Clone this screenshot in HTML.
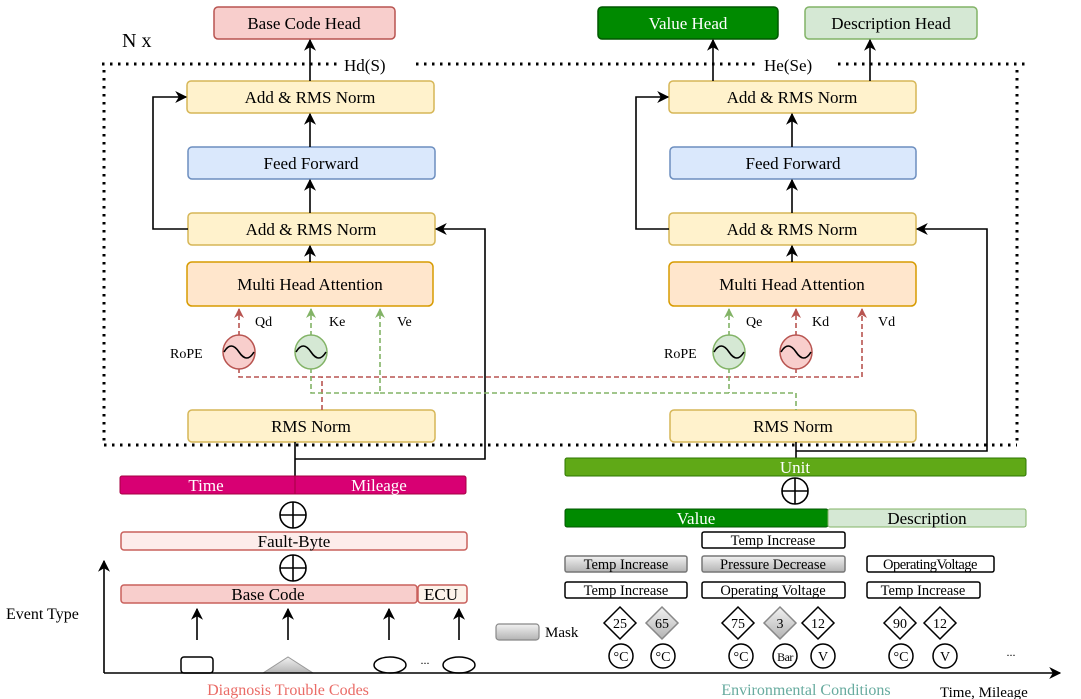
<!DOCTYPE html>
<html><head><meta charset="utf-8"><style>
html,body{margin:0;padding:0;background:#fff;}
svg{display:block;font-family:"Liberation Serif",serif;}
</style></head><body>
<svg width="1081" height="699" viewBox="0 0 1081 699" xmlns="http://www.w3.org/2000/svg">
<defs>
<marker id="ah" viewBox="0 0 10 10" refX="9" refY="5" markerWidth="12" markerHeight="12" orient="auto-start-reverse" markerUnits="userSpaceOnUse"><path d="M0,0 L10,5 L0,10 L3,5 z" fill="#000"/></marker>
<marker id="ahr" viewBox="0 0 10 10" refX="9" refY="5" markerWidth="10" markerHeight="10" orient="auto" markerUnits="userSpaceOnUse"><path d="M0,0 L10,5 L0,10 L3,5 z" fill="#b85450"/></marker>
<marker id="ahg" viewBox="0 0 10 10" refX="9" refY="5" markerWidth="10" markerHeight="10" orient="auto" markerUnits="userSpaceOnUse"><path d="M0,0 L10,5 L0,10 L3,5 z" fill="#82b366"/></marker>
<marker id="big" viewBox="0 0 10 10" refX="9" refY="5" markerWidth="12" markerHeight="12" orient="auto" markerUnits="userSpaceOnUse"><path d="M0,0 L10,5 L0,10 L3,5 z" fill="#000"/></marker>
<linearGradient id="gr" x1="0" y1="0" x2="0" y2="1"><stop offset="0" stop-color="#f2f2f2"/><stop offset="1" stop-color="#b3b3b3"/></linearGradient>
</defs>

<g stroke="#000" stroke-width="3" stroke-dasharray="2.5 5.5" fill="none">
<line x1="102" y1="64" x2="340" y2="64"/>
<line x1="416" y1="64" x2="760" y2="64"/>
<line x1="838" y1="64" x2="1026" y2="64"/>
<line x1="1017" y1="70" x2="1017" y2="445"/>
<line x1="104" y1="445" x2="1017" y2="445"/>
<line x1="104" y1="70" x2="104" y2="445"/>
</g>
<text x="122" y="47" font-size="20">N x</text>
<text x="344" y="71" font-size="17">Hd(S)</text>
<text x="764" y="71" font-size="17">He(Se)</text>

<rect x="214" y="7" width="181" height="32" rx="4" fill="#f8cecc" stroke="#b85450" stroke-width="1.5"/>
<text x="304" y="29" font-size="17" text-anchor="middle">Base Code Head</text>
<rect x="598" y="7" width="180" height="32" rx="4" fill="#008a00" stroke="#005700" stroke-width="1.5"/>
<text x="688" y="29" font-size="17" text-anchor="middle" fill="#fff">Value Head</text>
<rect x="805" y="7" width="172" height="32" rx="4" fill="#d5e8d4" stroke="#82b366" stroke-width="1.5"/>
<text x="891" y="29" font-size="17" text-anchor="middle">Description Head</text>

<g font-size="17" text-anchor="middle" stroke-width="1.5">
<rect x="187" y="81" width="247" height="32" rx="4" fill="#fff2cc" stroke="#d6b656"/>
<text x="310" y="103">Add &amp; RMS Norm</text>
<rect x="188" y="147" width="247" height="32" rx="4" fill="#dae8fc" stroke="#6c8ebf"/>
<text x="311" y="169">Feed Forward</text>
<rect x="188" y="213" width="247" height="32" rx="4" fill="#fff2cc" stroke="#d6b656"/>
<text x="311" y="235">Add &amp; RMS Norm</text>
<rect x="187" y="262" width="246" height="44" rx="5" fill="#ffe6cc" stroke="#d79b00"/>
<text x="310" y="290">Multi Head Attention</text>
<rect x="188" y="410" width="247" height="32" rx="4" fill="#fff2cc" stroke="#d6b656"/>
<text x="311" y="432">RMS Norm</text>

<rect x="669" y="81" width="247" height="32" rx="4" fill="#fff2cc" stroke="#d6b656"/>
<text x="792" y="103">Add &amp; RMS Norm</text>
<rect x="670" y="147" width="246" height="32" rx="4" fill="#dae8fc" stroke="#6c8ebf"/>
<text x="793" y="169">Feed Forward</text>
<rect x="669" y="213" width="247" height="32" rx="4" fill="#fff2cc" stroke="#d6b656"/>
<text x="792" y="235">Add &amp; RMS Norm</text>
<rect x="669" y="262" width="247" height="44" rx="5" fill="#ffe6cc" stroke="#d79b00"/>
<text x="792" y="290">Multi Head Attention</text>
<rect x="670" y="410" width="246" height="32" rx="4" fill="#fff2cc" stroke="#d6b656"/>
<text x="793" y="432">RMS Norm</text>
</g>

<g stroke="#000" stroke-width="1.6" fill="none">
<line x1="310" y1="81" x2="310" y2="40" marker-end="url(#ah)"/>
<line x1="310" y1="147" x2="310" y2="114" marker-end="url(#ah)"/>
<line x1="310" y1="213" x2="310" y2="180" marker-end="url(#ah)"/>
<line x1="310" y1="262" x2="310" y2="246" marker-end="url(#ah)"/>
<polyline points="188,229 153,229 153,97 186,97" marker-end="url(#ah)"/>
<polyline points="295,476 295,442"/>
<polyline points="295,459 485,459 485,229 436,229" marker-end="url(#ah)"/>

<line x1="713" y1="81" x2="713" y2="40" marker-end="url(#ah)"/>
<line x1="870" y1="81" x2="870" y2="40" marker-end="url(#ah)"/>
<line x1="792" y1="147" x2="792" y2="114" marker-end="url(#ah)"/>
<line x1="792" y1="213" x2="792" y2="180" marker-end="url(#ah)"/>
<line x1="792" y1="262" x2="792" y2="246" marker-end="url(#ah)"/>
<polyline points="669,229 636,229 636,97 668,97" marker-end="url(#ah)"/>
<polyline points="796,458 796,442"/>
<polyline points="796,451 987,451 987,229 917,229" marker-end="url(#ah)"/>
</g>

<g fill="none" stroke-width="1.6" stroke-dasharray="5 3">
<polyline points="239,368 239,377 862,377 862,309" stroke="#b85450" marker-end="url(#ahr)"/>
<polyline points="322,410 322,377" stroke="#b85450"/>
<line x1="239" y1="336" x2="239" y2="309" stroke="#b85450" marker-end="url(#ahr)"/>
<line x1="796" y1="336" x2="796" y2="309" stroke="#b85450" marker-end="url(#ahr)"/>
<line x1="796" y1="368" x2="796" y2="377" stroke="#b85450"/>
<polyline points="311,368 311,393 380,393 380,309" stroke="#82b366" marker-end="url(#ahg)"/>
<polyline points="380,393 796,393 796,410" stroke="#82b366"/>
<line x1="311" y1="336" x2="311" y2="309" stroke="#82b366" marker-end="url(#ahg)"/>
<line x1="729" y1="336" x2="729" y2="309" stroke="#82b366" marker-end="url(#ahg)"/>
<line x1="729" y1="368" x2="729" y2="393" stroke="#82b366"/>
</g>
<g font-size="14">
<text x="255" y="326">Qd</text><text x="329" y="326">Ke</text><text x="397" y="326">Ve</text>
<text x="746" y="326">Qe</text><text x="812" y="326">Kd</text><text x="878" y="326">Vd</text>
<text x="170" y="358">RoPE</text><text x="664" y="358">RoPE</text>
</g>
<g stroke-width="1.5">
<ellipse cx="239" cy="352" rx="16" ry="17" fill="#f8cecc" stroke="#b85450"/>
<ellipse cx="311" cy="352" rx="16" ry="17" fill="#d5e8d4" stroke="#82b366"/>
<ellipse cx="729" cy="352" rx="16" ry="17" fill="#d5e8d4" stroke="#82b366"/>
<ellipse cx="796" cy="352" rx="16" ry="17" fill="#f8cecc" stroke="#b85450"/>
</g>
<g fill="none" stroke="#000" stroke-width="1.6">
<path d="M224,352 q7,-12 15,0 t15,0"/>
<path d="M296,352 q7,-12 15,0 t15,0"/>
<path d="M714,352 q7,-12 15,0 t15,0"/>
<path d="M781,352 q7,-12 15,0 t15,0"/>
</g>

<rect x="120" y="476" width="346" height="18" rx="2" fill="#d80073" stroke="#a50040"/>
<line x1="295" y1="476" x2="295" y2="494" stroke="#a50040"/>
<text x="206" y="491" font-size="17" fill="#fff" text-anchor="middle">Time</text>
<text x="379" y="491" font-size="17" fill="#fff" text-anchor="middle">Mileage</text>
<g stroke="#000" stroke-width="1.6" fill="#fff">
<circle cx="293" cy="515" r="13"/><line x1="280" y1="515" x2="306" y2="515"/><line x1="293" y1="502" x2="293" y2="528"/>
<circle cx="293" cy="568" r="13"/><line x1="280" y1="568" x2="306" y2="568"/><line x1="293" y1="555" x2="293" y2="581"/>
<circle cx="795" cy="491" r="13"/><line x1="782" y1="491" x2="808" y2="491"/><line x1="795" y1="478" x2="795" y2="504"/>
</g>
<rect x="121" y="532" width="346" height="18" rx="3" fill="#fdeceb" stroke="#c9605c" stroke-width="1.5"/>
<text x="294" y="547" font-size="17" text-anchor="middle">Fault-Byte</text>
<rect x="121" y="585" width="296" height="18" rx="3" fill="#f8cecc" stroke="#c9605c" stroke-width="1.5"/>
<text x="268" y="600" font-size="17" text-anchor="middle">Base Code</text>
<rect x="418" y="585" width="49" height="18" rx="3" fill="#fdf3ea" stroke="#c9605c" stroke-width="1.5"/>
<text x="441" y="600" font-size="17" text-anchor="middle">ECU</text>
<g stroke="#000" stroke-width="1.6">
<line x1="197" y1="640" x2="197" y2="609" marker-end="url(#big)"/>
<line x1="288" y1="640" x2="288" y2="609" marker-end="url(#big)"/>
<line x1="389" y1="640" x2="389" y2="609" marker-end="url(#big)"/>
<line x1="459" y1="640" x2="459" y2="609" marker-end="url(#big)"/>
</g>
<rect x="181" y="657" width="32" height="16" rx="3" fill="#fff" stroke="#000" stroke-width="1.5"/>
<polygon points="263,673 288,657 313,673" fill="url(#gr)" stroke="#999"/>
<ellipse cx="390" cy="665" rx="16" ry="8" fill="#fff" stroke="#000" stroke-width="1.5"/>
<ellipse cx="459" cy="665" rx="16" ry="8" fill="#fff" stroke="#000" stroke-width="1.5"/>
<text x="425" y="664" font-size="12" text-anchor="middle">...</text>
<rect x="496" y="624" width="43" height="16" rx="3" fill="url(#gr)" stroke="#888" stroke-width="1.2"/>
<text x="545" y="637" font-size="15">Mask</text>

<g stroke="#000" stroke-width="1.6">
<line x1="104" y1="673" x2="104" y2="561" marker-end="url(#big)"/>
<line x1="104" y1="673" x2="1060" y2="673" marker-end="url(#big)"/>
</g>
<text x="6" y="619" font-size="16">Event Type</text>
<text x="288" y="695" font-size="16" fill="#ea6b66" text-anchor="middle">Diagnosis Trouble Codes</text>
<text x="806" y="695" font-size="16" fill="#67ab9f" text-anchor="middle">Environmental Conditions</text>
<text x="940" y="697" font-size="15">Time, Mileage</text>

<rect x="565" y="458" width="461" height="18" rx="2" fill="#60a917" stroke="#2d7600"/>
<text x="795" y="473" font-size="17" fill="#fff" text-anchor="middle">Unit</text>
<rect x="565" y="509" width="263" height="18" rx="2" fill="#008a00" stroke="#005700"/>
<text x="696" y="524" font-size="17" fill="#fff" text-anchor="middle">Value</text>
<rect x="828" y="509" width="198" height="18" rx="2" fill="#d5e8d4" stroke="#82b366"/>
<text x="927" y="524" font-size="17" text-anchor="middle">Description</text>
<g font-size="14.5" text-anchor="middle" stroke-width="1.5">
<rect x="702" y="532" width="143" height="16" rx="2" fill="#fff" stroke="#000"/>
<text x="773" y="545">Temp Increase</text>
<rect x="565" y="556" width="122" height="16" rx="2" fill="url(#gr)" stroke="#777"/>
<text x="626" y="569">Temp Increase</text>
<rect x="702" y="556" width="143" height="16" rx="2" fill="url(#gr)" stroke="#777"/>
<text x="773" y="569">Pressure Decrease</text>
<rect x="867" y="556" width="127" height="16" rx="2" fill="#fff" stroke="#000"/>
<text x="930" y="569" letter-spacing="-0.5">OperatingVoltage</text>
<rect x="565" y="582" width="122" height="16" rx="2" fill="#fff" stroke="#000"/>
<text x="626" y="595">Temp Increase</text>
<rect x="702" y="582" width="143" height="16" rx="2" fill="#fff" stroke="#000"/>
<text x="773" y="595">Operating Voltage</text>
<rect x="867" y="582" width="113" height="16" rx="2" fill="#fff" stroke="#000"/>
<text x="923" y="595">Temp Increase</text>
</g>
<g font-size="14" text-anchor="middle" stroke-width="1.5">
<polygon points="620,607 636,623 620,639 604,623" fill="#fff" stroke="#000"/><text x="620" y="628">25</text>
<polygon points="662,607 678,623 662,639 646,623" fill="url(#gr)" stroke="#888"/><text x="662" y="628">65</text>
<polygon points="738,607 754,623 738,639 722,623" fill="#fff" stroke="#000"/><text x="738" y="628">75</text>
<polygon points="780,607 796,623 780,639 764,623" fill="url(#gr)" stroke="#888"/><text x="780" y="628">3</text>
<polygon points="818,607 834,623 818,639 802,623" fill="#fff" stroke="#000"/><text x="818" y="628">12</text>
<polygon points="900,607 916,623 900,639 884,623" fill="#fff" stroke="#000"/><text x="900" y="628">90</text>
<polygon points="940,607 956,623 940,639 924,623" fill="#fff" stroke="#000"/><text x="940" y="628">12</text>
</g>
<g font-size="14" text-anchor="middle" stroke-width="1.5" fill="#fff" stroke="#000">
<circle cx="621" cy="656" r="12"/><circle cx="663" cy="656" r="12"/><circle cx="741" cy="656" r="12"/>
<circle cx="785" cy="656" r="12"/><circle cx="823" cy="656" r="12"/><circle cx="901" cy="656" r="12"/><circle cx="945" cy="656" r="12"/>
</g>
<g font-size="14" text-anchor="middle">
<text x="621" y="661">°C</text><text x="663" y="661">°C</text><text x="741" y="661">°C</text>
<text x="785" y="661" font-size="12" letter-spacing="-0.5">Bar</text><text x="823" y="661">V</text><text x="901" y="661">°C</text><text x="945" y="661">V</text>
<text x="1011" y="656" font-size="12">...</text>
</g>
</svg>
</body></html>
